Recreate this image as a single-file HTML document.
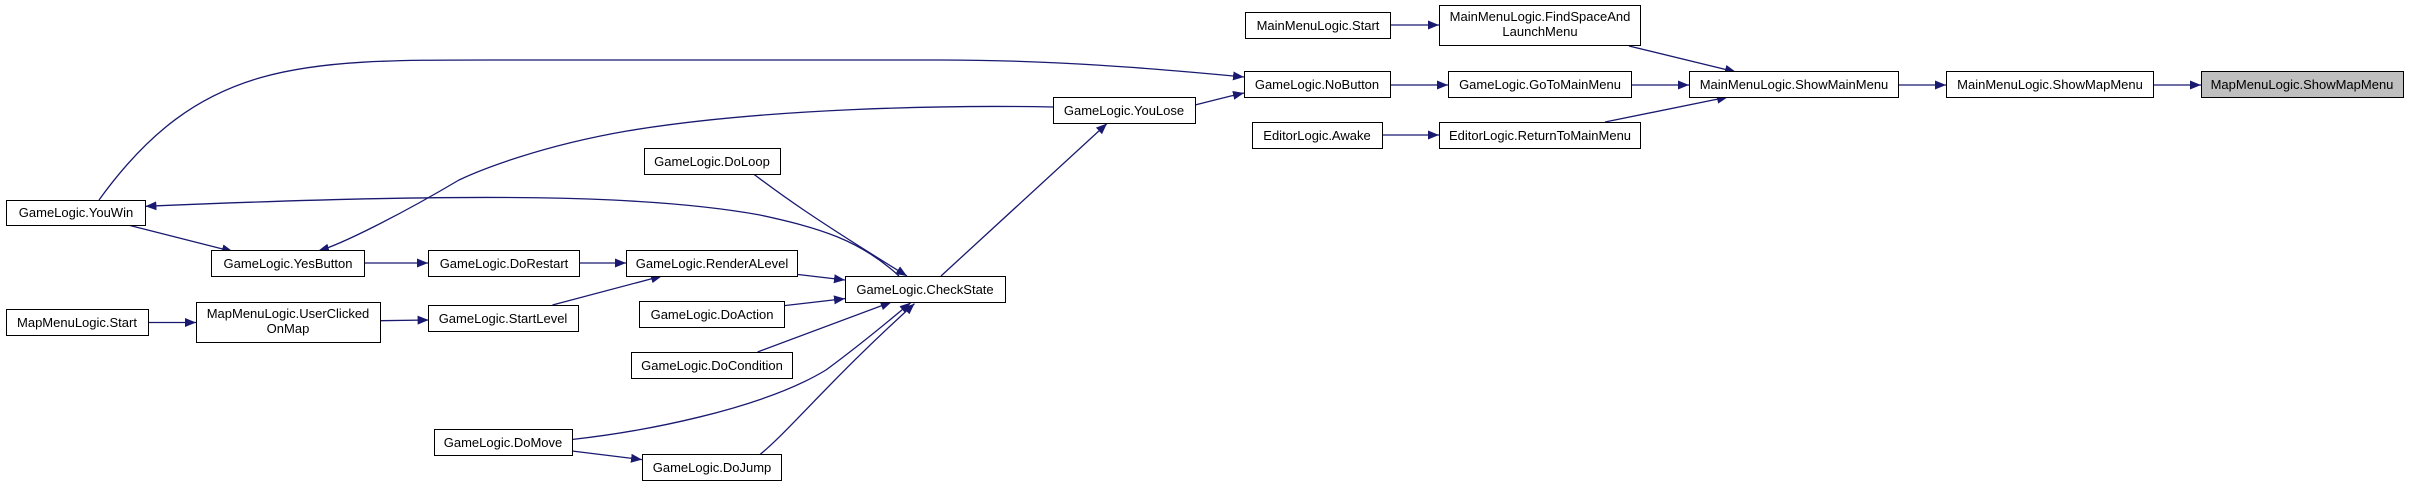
<!DOCTYPE html>
<html><head><meta charset="utf-8"><style>
html,body{margin:0;padding:0;background:#fff;}
svg{display:block;}
text{font-family:"Liberation Sans",Arial,sans-serif;font-size:13px;fill:#000;}
</style></head><body>
<svg width="2409" height="483" viewBox="0 0 2409 483" xmlns="http://www.w3.org/2000/svg">
<defs>
<marker id="a" markerUnits="userSpaceOnUse" markerWidth="12" markerHeight="10" refX="11" refY="4.5" orient="auto">
<path d="M0,0 L11,4.5 L0,9 z" fill="#191970"/>
</marker>
</defs>
<g fill="none" stroke="#191970" stroke-width="1.3" marker-end="url(#a)">
<path d="M2153,85 L2201,85"/>
<path d="M1898,85 L1946,85"/>
<path d="M1631,85 L1689,85"/>
<path d="M1629,46 L1736,72"/>
<path d="M1605,122 L1728,97"/>
<path d="M1390,25 L1439,25"/>
<path d="M1382,135 L1439,135"/>
<path d="M1390,85 L1448,85"/>
<path d="M99,200 C200,60 300,60 490,60 L940,60 C1050,60 1150,68 1244,77"/>
<path d="M1195,105 C1215,100 1230,96 1244,93"/>
<path d="M941,276 L1107,123.5"/>
<path d="M1053,107 C949,105 765,108 627,131 C540,146 480,170 459,180 C400,215 340,245 318,251"/>
<path d="M130,225.5 L233,251.6"/>
<path d="M899,276 C860,240 820,228 760,215 C650,195 480,192 145.4,206.3"/>
<path d="M364,263 L428,263"/>
<path d="M579,263 L626,263"/>
<path d="M797,274.4 L845,280"/>
<path d="M552.5,305 L662,276"/>
<path d="M148,322.5 L196,322.5"/>
<path d="M380,320.7 L428.6,320"/>
<path d="M754,174.4 C775,190 800,210 907,276"/>
<path d="M784.4,305.6 L845,298.6"/>
<path d="M757.6,352 L891.6,302"/>
<path d="M572,439.5 C640,432 760,410 826,370 C860,345 890,320 910.7,302.6"/>
<path d="M572,451 L642,459.6"/>
<path d="M760,454.5 C790,430 830,380 914.5,303.6"/>
</g>
<g stroke="#000" stroke-width="1" fill="#fff">
<rect x="6.5" y="200.5" width="139" height="25"/>
<rect x="211.5" y="250.5" width="153" height="26"/>
<rect x="428.5" y="250.5" width="151" height="26"/>
<rect x="626.5" y="250.5" width="171" height="26"/>
<rect x="845.5" y="276.5" width="160" height="26"/>
<rect x="644.5" y="148.5" width="136" height="26"/>
<rect x="1053.5" y="97.5" width="142" height="26"/>
<rect x="6.5" y="309.5" width="142" height="26"/>
<rect x="196.5" y="302.5" width="184" height="40"/>
<rect x="428.5" y="305.5" width="150" height="26"/>
<rect x="639.5" y="301.5" width="145" height="26"/>
<rect x="631.5" y="352.5" width="161" height="26"/>
<rect x="434.5" y="429.5" width="138" height="26"/>
<rect x="642.5" y="454.5" width="139" height="26"/>
<rect x="1245.5" y="12.5" width="145" height="26"/>
<rect x="1439.5" y="5.5" width="201" height="40"/>
<rect x="1244.5" y="71.5" width="146" height="26"/>
<rect x="1448.5" y="71.5" width="183" height="26"/>
<rect x="1689.5" y="71.5" width="209" height="26"/>
<rect x="1946.5" y="71.5" width="207" height="26"/>
<rect x="2201.5" y="71.5" width="202" height="26" fill="#bfbfbf"/>
<rect x="1252.5" y="122.5" width="130" height="26"/>
<rect x="1439.5" y="122.5" width="201" height="26"/>
</g>
<g text-anchor="middle">
<text x="76" y="217">GameLogic.YouWin</text>
<text x="288" y="268">GameLogic.YesButton</text>
<text x="504" y="268">GameLogic.DoRestart</text>
<text x="712" y="268">GameLogic.RenderALevel</text>
<text x="925" y="294">GameLogic.CheckState</text>
<text x="712" y="166">GameLogic.DoLoop</text>
<text x="1124" y="115">GameLogic.YouLose</text>
<text x="77" y="327">MapMenuLogic.Start</text>
<text x="288" y="318">MapMenuLogic.UserClicked</text>
<text x="288" y="333">OnMap</text>
<text x="503" y="323">GameLogic.StartLevel</text>
<text x="712" y="319">GameLogic.DoAction</text>
<text x="712" y="370">GameLogic.DoCondition</text>
<text x="503" y="447">GameLogic.DoMove</text>
<text x="712" y="472">GameLogic.DoJump</text>
<text x="1318" y="30">MainMenuLogic.Start</text>
<text x="1540" y="21">MainMenuLogic.FindSpaceAnd</text>
<text x="1540" y="36">LaunchMenu</text>
<text x="1317" y="89">GameLogic.NoButton</text>
<text x="1540" y="89">GameLogic.GoToMainMenu</text>
<text x="1794" y="89">MainMenuLogic.ShowMainMenu</text>
<text x="2050" y="89">MainMenuLogic.ShowMapMenu</text>
<text x="2302" y="89">MapMenuLogic.ShowMapMenu</text>
<text x="1317" y="140">EditorLogic.Awake</text>
<text x="1540" y="140">EditorLogic.ReturnToMainMenu</text>
</g>
</svg>
</body></html>
